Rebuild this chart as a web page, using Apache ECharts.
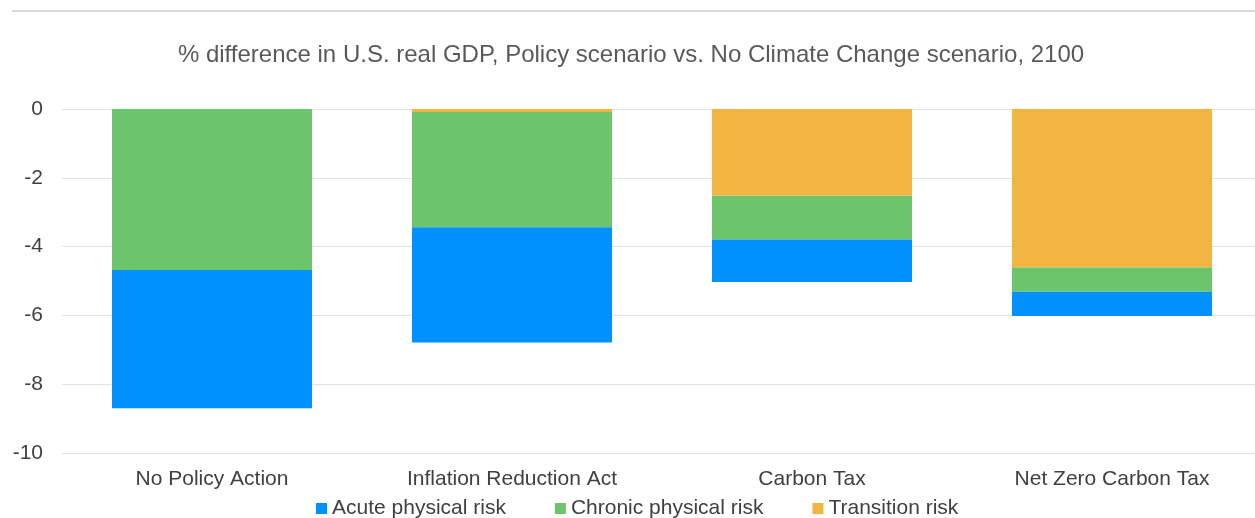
<!DOCTYPE html>
<html>
<head>
<meta charset="utf-8">
<script src="https://cdn.jsdelivr.net/npm/echarts@6/dist/echarts.min.js"></script>
<style>
  html, body { margin: 0; padding: 0; background: #fff; overflow: hidden; }
  #chart { width: 1262px; height: 518px; }
</style>
</head>
<body>
<div id="chart"></div>
<script>
// Scenarios on the x axis
const categories = ['No Policy Action', 'Inflation Reduction Act', 'Carbon Tax', 'Net Zero Carbon Tax'];
// Contribution of each risk to the GDP difference (percentage points)
const transitionRisk = [0, -0.09, -2.52, -4.61];
const chronicRisk = [-4.68, -3.35, -1.27, -0.70];
const acuteRisk = [-4.02, -3.35, -1.24, -0.71];
// Y axis ticks
const yTicks = [0, -2, -4, -6, -8, -10];

const titleText = '% difference in U.S. real GDP, Policy scenario vs. No Climate Change scenario, 2100';
const FONT = 'Liberation Sans, Arial, sans-serif';

const chart = echarts.init(document.getElementById('chart'), null, { renderer: 'canvas' });

function barSeries(name, data, color) {
  return {
    name: name,
    type: 'bar',
    stack: 'total',
    data: data,
    barWidth: 200,
    itemStyle: { color: color },
    emphasis: { disabled: true }
  };
}

chart.setOption({
  animation: false,
  backgroundColor: '#ffffff',
  graphic: [{
    type: 'line',
    shape: { x1: 12, y1: 11, x2: 1262, y2: 11 },
    style: { stroke: '#d9d9d9', lineWidth: 2 }
  }],
  title: {
    text: titleText,
    left: 'center',
    top: 38,
    textStyle: { fontFamily: FONT, fontSize: 24, fontWeight: 'normal', color: '#595959' }
  },
  legend: {
    data: ['Acute physical risk', 'Chronic physical risk', 'Transition risk'],
    top: 498,
    left: 316,
    padding: 0,
    icon: 'rect',
    itemWidth: 11,
    itemHeight: 11,
    itemGap: 49,
    textStyle: { fontFamily: FONT, fontSize: 21, color: '#404040', padding: [0, 0, 0, 0] }
  },
  grid: { left: 62, right: 0, top: 109, height: 344, containLabel: false },
  xAxis: {
    type: 'category',
    data: categories,
    axisLine: { show: false },
    axisTick: { show: false },
    axisLabel: { fontFamily: FONT, fontSize: 21, color: '#404040', margin: 16 }
  },
  yAxis: {
    type: 'value',
    min: Math.min(...yTicks),
    max: Math.max(...yTicks),
    interval: 2,
    axisLine: { show: false },
    axisTick: { show: false },
    splitLine: { lineStyle: { color: '#e3e3e3', width: 1 } },
    axisLabel: { fontFamily: FONT, fontSize: 21, color: '#404040', margin: 19 }
  },
  series: [
    barSeries('Transition risk', transitionRisk, '#f3b541'),
    barSeries('Chronic physical risk', chronicRisk, '#6cc56b'),
    barSeries('Acute physical risk', acuteRisk, '#0091ff')
  ]
});
</script>
</body>
</html>
